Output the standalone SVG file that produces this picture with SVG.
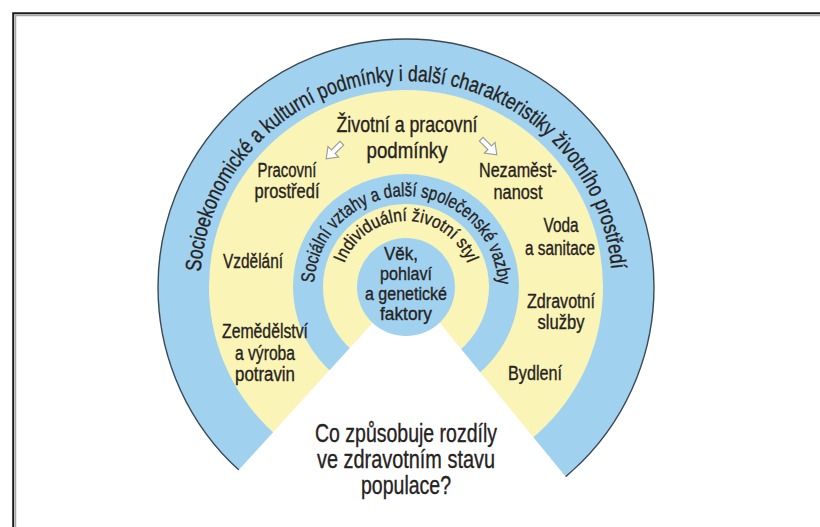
<svg xmlns="http://www.w3.org/2000/svg" xmlns:xlink="http://www.w3.org/1999/xlink" width="820" height="527" viewBox="0 0 820 527">
  <style>
    .lbl { font-family: "Liberation Sans", "DejaVu Sans", sans-serif; fill: #26231f; stroke: #26231f; stroke-width: 0.35px; text-anchor: middle; }
    .f20 { font-size: 20px; }
    .f18 { font-size: 18px; }
    .f22 { font-size: 22px; }
    .f25 { font-size: 25px; }
    .arc { font-family: "Liberation Sans", "DejaVu Sans", sans-serif; fill: #26231f; stroke: #26231f; stroke-width: 0.35px; }
    .blue { fill: #a0d2f0; }
    .yellow { fill: #fbf4b7; }
  </style>
  <defs>
    <!-- baselines for the curved ring titles, centred on (406,287) -->
    <path id="arcOuter" d="M200.5,272.6 A206,206 0 0 1 611.5,272.6"/>
    <path id="arcSocial" d="M314.1,283.8 A92,92 0 0 1 497.9,283.8"/>
    <path id="arcStyle" d="M344,264.4 A66,66 0 0 1 468,264.4"/>
    <!-- hollow block arrow pointing along +x -->
    <path id="arr" d="M-11,-2.6 H1 V-7.5 L11,0 L1,7.5 V2.6 H-11 Z" fill="#ffffff" stroke="#9c9c9c" stroke-width="1.2" stroke-linejoin="miter"/>
  </defs>

  <rect width="820" height="527" fill="#ffffff"/>

  <!-- page frame (open at right and bottom) -->
  <path d="M15.5,527 V15.5 H820" fill="none" stroke="#a8a8a8" stroke-width="1.5"/>
  <path d="M13.2,527 V13.2 H820" fill="none" stroke="#1c1c1c" stroke-width="2"/>

  <!-- concentric layers -->
  <g id="ring-socioeconomic">
    <circle class="blue" cx="406" cy="287" r="248" stroke="#3b4954" stroke-width="1.4"/>
  </g>
  <g id="ring-living-working">
    <circle class="yellow" cx="406" cy="287" r="197"/>
  </g>
  <g id="ring-social">
    <circle class="blue" cx="406" cy="287" r="113"/>
  </g>
  <g id="ring-lifestyle">
    <circle class="yellow" cx="406" cy="287" r="83"/>
  </g>

  <!-- open sector at the bottom -->
  <g id="question">
    <polygon points="408,284 175,540 617.5,540" fill="#ffffff"/>
    <text class="lbl f25" x="406" y="442" textLength="182" lengthAdjust="spacingAndGlyphs">Co způsobuje rozdíly</text>
    <text class="lbl f25" x="406" y="468" textLength="178" lengthAdjust="spacingAndGlyphs">ve zdravotním stavu</text>
    <text class="lbl f25" x="406" y="494" textLength="90" lengthAdjust="spacingAndGlyphs">populace?</text>
  </g>

  <g id="core">
    <circle class="blue" cx="406" cy="287" r="49"/>
    <text class="lbl f18" x="401" y="260" textLength="34" lengthAdjust="spacingAndGlyphs">Věk,</text>
    <text class="lbl f18" x="406" y="280" textLength="52" lengthAdjust="spacingAndGlyphs">pohlaví</text>
    <text class="lbl f18" x="406" y="300" textLength="82" lengthAdjust="spacingAndGlyphs">a genetické</text>
    <text class="lbl f18" x="406" y="320" textLength="52" lengthAdjust="spacingAndGlyphs">faktory</text>
  </g>

  <!-- curved ring titles -->
  <g id="ring-titles">
    <text class="arc" font-size="22"><textPath xlink:href="#arcOuter" href="#arcOuter" startOffset="1" textLength="614" lengthAdjust="spacingAndGlyphs">Socioekonomické a kulturní podmínky i další charakteristiky životního prostředí</textPath></text>
    <text class="arc" font-size="19"><textPath xlink:href="#arcSocial" href="#arcSocial" startOffset="1" textLength="280" lengthAdjust="spacingAndGlyphs">Sociální vztahy a další společenské vazby</textPath></text>
    <text class="arc" font-size="18"><textPath xlink:href="#arcStyle" href="#arcStyle" startOffset="1" textLength="159" lengthAdjust="spacingAndGlyphs">Individuální životní styl</textPath></text>
  </g>

  <!-- living and working conditions -->
  <g id="living-working-title">
    <text class="lbl f22" x="407" y="132" textLength="141" lengthAdjust="spacingAndGlyphs">Životní a pracovní</text>
    <text class="lbl f22" x="407" y="158" textLength="81" lengthAdjust="spacingAndGlyphs">podmínky</text>
  </g>
  <g id="work-environment">
    <text class="lbl f20" x="287" y="177" textLength="59" lengthAdjust="spacingAndGlyphs">Pracovní</text>
    <text class="lbl f20" x="287" y="198" textLength="65" lengthAdjust="spacingAndGlyphs">prostředí</text>
  </g>
  <g id="education">
    <text class="lbl f20" x="253" y="268" textLength="60" lengthAdjust="spacingAndGlyphs">Vzdělání</text>
  </g>
  <g id="agriculture">
    <text class="lbl f20" x="265" y="338" textLength="86" lengthAdjust="spacingAndGlyphs">Zemědělství</text>
    <text class="lbl f20" x="265" y="360" textLength="60" lengthAdjust="spacingAndGlyphs">a výroba</text>
    <text class="lbl f20" x="265" y="381" textLength="60" lengthAdjust="spacingAndGlyphs">potravin</text>
  </g>
  <g id="unemployment">
    <text class="lbl f20" x="518" y="177" textLength="78" lengthAdjust="spacingAndGlyphs">Nezaměst-</text>
    <text class="lbl f20" x="518" y="199" textLength="49" lengthAdjust="spacingAndGlyphs">nanost</text>
  </g>
  <g id="water">
    <text class="lbl f20" x="561" y="232" textLength="35" lengthAdjust="spacingAndGlyphs">Voda</text>
    <text class="lbl f20" x="560" y="255" textLength="70" lengthAdjust="spacingAndGlyphs">a sanitace</text>
  </g>
  <g id="health-services">
    <text class="lbl f20" x="561" y="308" textLength="68" lengthAdjust="spacingAndGlyphs">Zdravotní</text>
    <text class="lbl f20" x="561" y="329" textLength="47" lengthAdjust="spacingAndGlyphs">služby</text>
  </g>
  <g id="housing">
    <text class="lbl f20" x="535" y="380" textLength="54" lengthAdjust="spacingAndGlyphs">Bydlení</text>
  </g>

  <g id="connectors">
    <use href="#arr" xlink:href="#arr" transform="translate(334,151) rotate(135)"/>
    <use href="#arr" xlink:href="#arr" transform="translate(489,147) rotate(45)"/>
  </g>
</svg>
